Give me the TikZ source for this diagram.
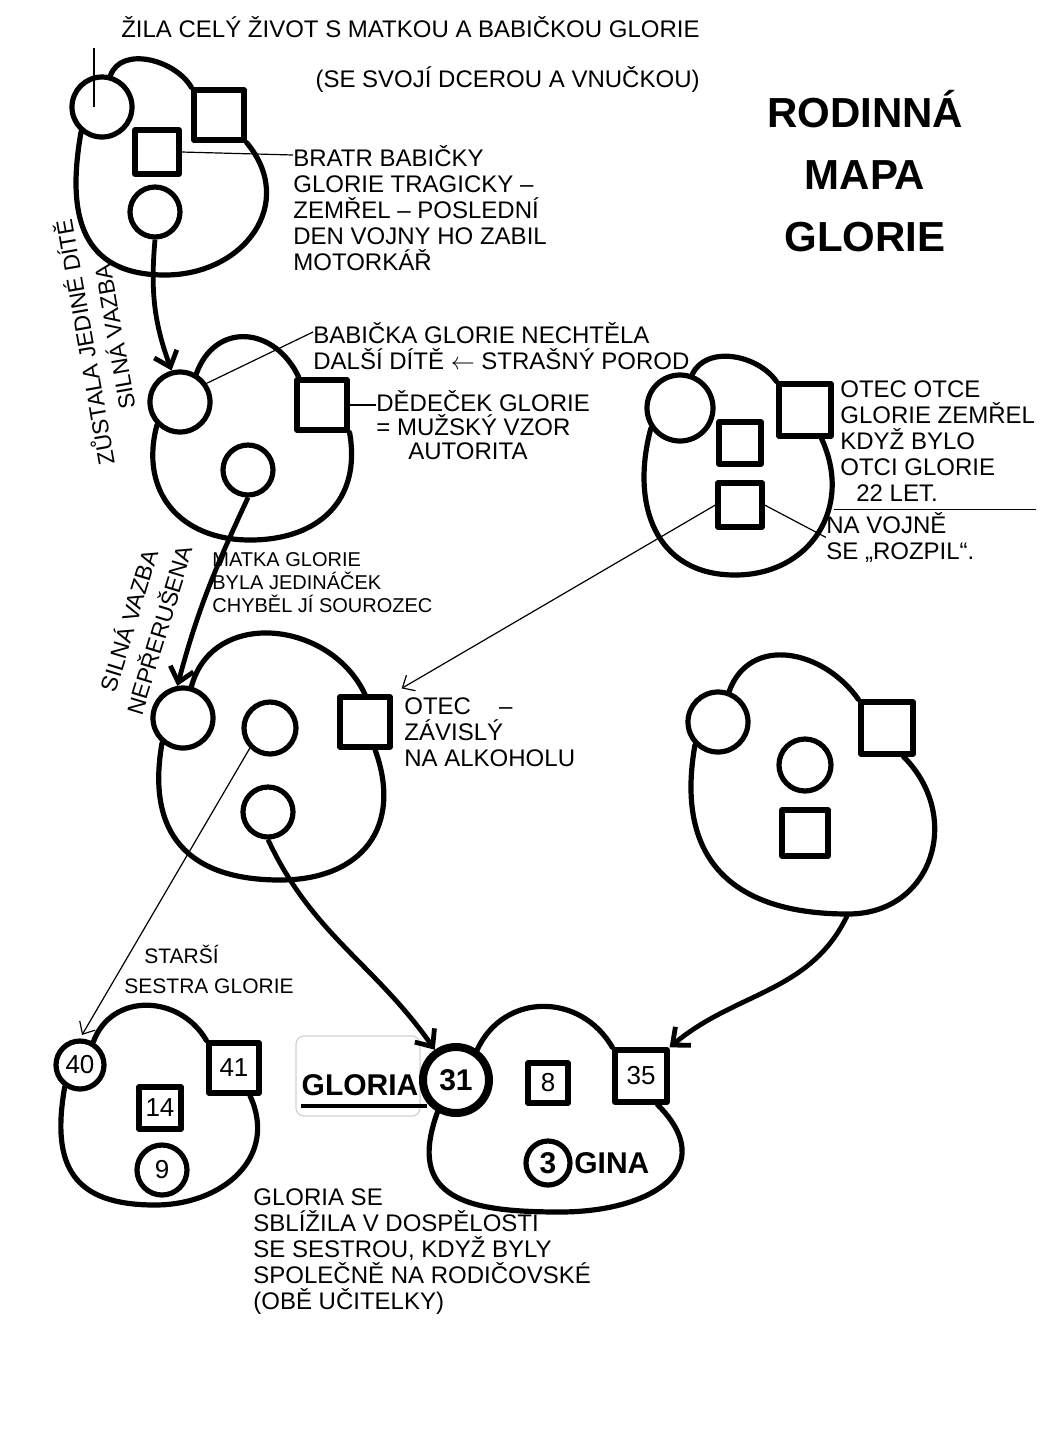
\documentclass[tikz,border=0pt]{standalone}
\usepackage{fontspec}
\setmainfont{Liberation Sans}
\usetikzlibrary{arrows.meta}

\begin{document}
\begin{tikzpicture}[x=0.5pt, y=0.5pt, line join=round,
                    obrys/.style={line width=2.6pt, line cap=round},
                    zena/.style={draw, circle, line width=2.6pt, fill=white, inner sep=0pt, font=\fontsize{13}{13}\selectfont},
                    muz/.style={draw, rectangle, line width=2.6pt, fill=white, inner sep=0pt, font=\fontsize{13}{13}\selectfont},
                    pouto/.style={line width=2.4pt, -{Straight Barb[length=7pt, width=12pt]}},
                    odkaz/.style={line width=0.6pt},
                    sipka/.style={line width=0.6pt, -{Straight Barb[length=5pt, width=9pt]}},
                    popis/.style={align=left, inner sep=0pt, font=\fontsize{12}{13}\selectfont},
                    jmeno/.style={inner sep=0pt, font=\fontsize{15}{15}\selectfont\bfseries}]

    \useasboundingbox (0,0) rectangle (1046,-1448);

    % rodina prababicky
    \node[zena, minimum size=30pt] (prababicka)  at (102,-107) {};
    \node[muz, minimum size=25pt]  (pradedecek)  at (219,-115) {};
    \node[muz, minimum size=22pt]  (bratr)       at (157,-152) {};
    \node[zena, minimum size=25pt] (babickaDite) at (155,-212) {};
    \coordinate (dno1) at (165,-275);
    \draw[obrys] (prababicka.75) to[out=70, in=120] (pradedecek.north west);
    \draw[obrys] (pradedecek.south east) to[out=-50, in=0, looseness=1.3] (dno1)
                 to[out=180, in=-100, looseness=1.3] (prababicka.230);

    % rodina babicky
    \node[zena, minimum size=30pt] (babicka)   at (180,-402) {};
    \node[muz, minimum size=25pt]  (dedecek)   at (322,-405) {};
    \node[zena, minimum size=25pt] (matkaDite) at (248,-470) {};
    \coordinate (dno2) at (250,-540);
    \draw[obrys] (babicka.60) to[out=70, in=115, looseness=1.4] (dedecek.130);
    \draw[obrys] (dedecek.south east) to[out=-80, in=0, looseness=1.2] (dno2)
                 to[out=180, in=-105, looseness=1.2] (babicka.225);

    % rodina otce
    \node[zena, minimum size=33pt] (babickaO) at (680,-408) {};
    \node[muz, minimum size=26pt]  (dedecekO) at (805,-410) {};
    \node[muz, minimum size=21pt]  (strycO)   at (740,-443) {};
    \node[muz, minimum size=22pt]  (otecDite) at (740,-505) {};
    \coordinate (dno4) at (735,-575);
    \draw[obrys] (babickaO.70) to[out=65, in=125] (dedecekO.north west);
    \draw[obrys] (dedecekO.-60) to[out=-65, in=0, looseness=1.2] (dno4)
                 to[out=180, in=-105, looseness=1.2] (babickaO.215);

    % rodina matky
    \node[zena, minimum size=30pt] (matka)      at (183,-718) {};
    \node[zena, minimum size=26pt] (sestraDite) at (270,-728) {};
    \node[muz, minimum size=25pt]  (otec)       at (365,-722) {};
    \node[zena, minimum size=25pt] (gloriaDite) at (268,-812) {};
    \coordinate (dno3) at (280,-880);
    \draw[obrys] (matka.75) to[out=75, in=115, looseness=1.2] (otec.north);
    \draw[obrys] (otec.-70) to[out=-70, in=0, looseness=1.3] (dno3)
                 to[out=180, in=-100, looseness=1.3] (matka.230);

    % rodina manzela
    \node[zena, minimum size=30pt] (babickaM)   at (718,-722) {};
    \node[muz, minimum size=26pt]  (dedecekM)   at (887,-728) {};
    \node[zena, minimum size=26pt] (tetaM)      at (805,-765) {};
    \node[muz, minimum size=23pt]  (manzelDite) at (805,-833) {};
    \coordinate (dno5) at (848,-914);
    \draw[obrys] (babickaM.70) to[out=70, in=125, looseness=1.2] (dedecekM.north west);
    \draw[obrys] (dedecekM.-60) to[out=-45, in=0, looseness=1.3] (dno5)
                 to[out=180, in=-100, looseness=1.3] (babickaM.225);

    % rodina sestry
    \node[zena, minimum size=24pt] (sestra)  at (80,-1065) {40};
    \node[muz, minimum size=25pt]  (svagr)   at (234,-1068) {41};
    \node[muz, minimum size=21pt]  (synovec) at (160,-1108) {14};
    \node[zena, minimum size=25pt] (neter)   at (162,-1170) {9};
    \coordinate (dno6) at (155,-1205);
    \draw[obrys] (sestra.60) to[out=70, in=120, looseness=1.2] (svagr.north west);
    \draw[obrys] (svagr.-60) to[out=-65, in=0, looseness=1.2] (dno6)
                 to[out=180, in=-100, looseness=1.4] (sestra.235);

    % rodina Glorie
    \draw[black!18, line width=0.6pt, rounded corners=4pt] (296,-1036) rectangle (420,-1116);
    \node[jmeno] (lblGloria) at (360,-1085) {GLORIA};
    \coordinate (podtrzeni) at ([yshift=-5pt]lblGloria.south west);
    \node[zena, line width=4pt, minimum size=33pt, font=\fontsize{15}{15}\selectfont\bfseries] (gloria) at (456,-1080) {31};
    \draw[line width=1.8pt, shorten >=-4pt] (podtrzeni) -- (podtrzeni -| gloria.west);
    \node[muz, minimum size=20pt]  (syn)    at (548,-1083) {8};
    \node[muz, minimum size=26pt]  (manzel) at (641,-1076) {35};
    \node[zena, minimum size=22pt, font=\fontsize{15}{15}\selectfont\bfseries] (gina) at (548,-1163) {3};
    \node[jmeno, anchor=west] (lblGina) at (574,-1163) {GINA};
    \coordinate (dno7) at (560,-1212);
    \draw[obrys] (gloria.55) to[out=65, in=120, looseness=1.2] (manzel.north west);
    \draw[obrys] (manzel.-60) to[out=-45, in=0, looseness=1.6] (dno7)
                 to[out=180, in=-110, looseness=1.5] (gloria.240);

    % vazby mezi generacemi
    \draw[pouto] (babickaDite.south) to[out=-95, in=110] (babicka.105);
    \draw[pouto] (matkaDite.south) to[out=-115, in=75] (matka.100);
    \draw[pouto] (gloriaDite.south) to[out=-65, in=125] (gloria.125);
    \draw[pouto] (dno5) to[out=-115, in=40] (manzel.north east);
    \draw[sipka] (otecDite.west) -- ([shift={(9,6)}]otec.north east);
    \draw[sipka, shorten >=2pt] (sestraDite.south west) -- (sestra.north);

    % popisky
    \node[popis, anchor=north east, align=right, font=\fontsize{12}{25}\selectfont] (txtZila) at (700,-16)
        {ŽILA CELÝ ŽIVOT S MATKOU A BABIČKOU GLORIE\\(SE SVOJÍ DCEROU A VNUČKOU)};
    \coordinate (konecZila) at (94,-48);
    \draw[odkaz] (prababicka.center -| konecZila) -- (konecZila);

    \node[popis, anchor=north west] (txtBratr) at (293,-145)
        {BRATR BABIČKY\\GLORIE TRAGICKY –\\ZEMŘEL – POSLEDNÍ\\DEN VOJNY HO ZABIL\\MOTORKÁŘ};
    \draw[odkaz] (bratr.east) -- ([yshift=-5pt]txtBratr.north west);

    \node[popis, anchor=north west] (txtBabicka) at (313,-322)
        {BABIČKA GLORIE NECHTĚLA\\DALŠÍ DÍTĚ $\leftarrow$ STRAŠNÝ POROD};
    \draw[odkaz] (babicka.35) -- ([yshift=-5pt]txtBabicka.north west);

    \node[popis, anchor=north west, font=\fontsize{12}{12}\selectfont] (txtDedecek) at (376,-390)
        {DĚDEČEK GLORIE\\= MUŽSKÝ VZOR\\\hspace{16pt}AUTORITA};
    \draw[odkaz] (dedecek.east) -- (dedecek.east -| txtDedecek.west);

    \node[popis, anchor=north west] (txtOtecOtce) at (840,-380)
        {OTEC OTCE\\GLORIE ZEMŘEL\\KDYŽ BYLO\\OTCI GLORIE\\\hspace{8pt}22 LET.};
    \draw[odkaz] ([shift={(-3pt,-4pt)}]txtOtecOtce.south west) -- ([yshift=-4pt]txtOtecOtce.south east);

    \node[popis, anchor=north west] (txtVojna) at (826,-512) {NA VOJNĚ\\SE „ROZPIL“.};
    \draw[odkaz] (otecDite.east) -- (txtVojna.west);

    \node[popis, anchor=north west, font=\fontsize{10}{11.5}\selectfont] (txtMatka) at (212,-552)
        {MATKA GLORIE\\BYLA JEDINÁČEK\\CHYBĚL JÍ SOUROZEC};

    \node[popis, align=center, rotate=100, font=\fontsize{11.5}{15}\selectfont] (txtVazba1) at (98,-340)
        {ZŮSTALA JEDINÉ DÍTĚ\\SILNÁ VAZBA};
    \node[popis, align=center, rotate=73, font=\fontsize{11.5}{16}\selectfont] (txtVazba2) at (143,-625)
        {SILNÁ VAZBA\\NEPŘERUŠENA};

    \node[popis, anchor=north west] (txtOtec) at (404,-697) {OTEC\hspace{14pt}–\\ZÁVISLÝ\\NA ALKOHOLU};

    \node[popis, anchor=north west, font=\fontsize{10.5}{15}\selectfont] (txtSestra) at (124,-945)
        {\hspace{10pt}STARŠÍ\\SESTRA GLORIE};

    \node[popis, anchor=north west] (txtSblizila) at (253,-1188)
        {GLORIA SE\\SBLÍŽILA V DOSPĚLOSTI\\SE SESTROU, KDYŽ BYLY\\SPOLEČNĚ NA RODIČOVSKÉ\\(OBĚ UČITELKY)};

    \node[align=center, font=\fontsize{21}{31}\selectfont\bfseries] (nadpis) at (865,-171)
        {RODINNÁ\\MAPA\\GLORIE};

\end{tikzpicture}
\end{document}
